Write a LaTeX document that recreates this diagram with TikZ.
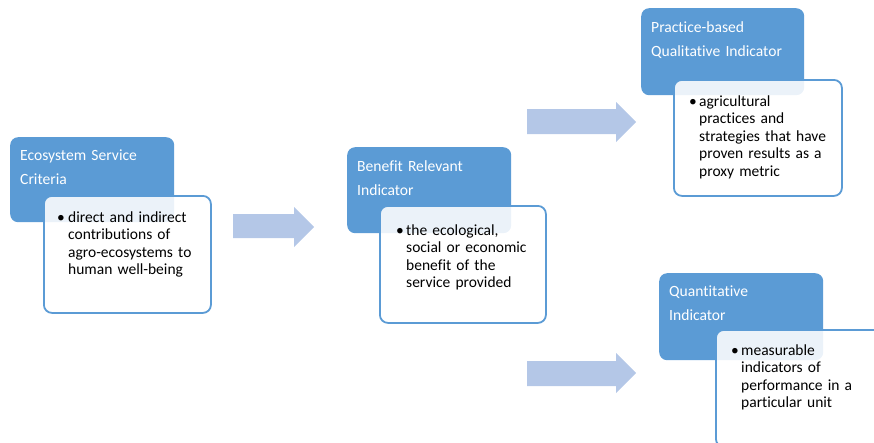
\documentclass[tikz,border=0pt]{standalone}
\usepackage{fontspec}
\setmainfont{Carlito}[Ligatures={NoCommon,NoRequired,NoContextual,NoRare},RawFeature={-liga;-dlig;-clig;-calt}]
\definecolor{cardblue}{HTML}{5B9BD5}
\definecolor{arrowblue}{HTML}{B4C7E7}
\tikzset{
  titlecard/.style={fill=cardblue, draw=none, rounded corners=8pt, inner sep=0pt, anchor=north west},
  bodycard/.style={fill=white, fill opacity=0.88, draw=cardblue, draw opacity=1, line width=1.8pt, rounded corners=8pt, inner sep=0pt, anchor=north west},
  titletext/.style={text=white, font=\fontsize{15.6}{24.5}\selectfont, anchor=base west, align=left, inner sep=0pt, text width=170pt},
  bodytext/.style={text=black, font=\fontsize{15.5}{17.6}\selectfont, anchor=base west, align=left, inner sep=0pt, text width=160pt},
  bullettext/.style={text=black, font=\fontsize{15.5}{17.6}\selectfont, anchor=base west, inner sep=0pt},
  blockarrow/.style={fill=arrowblue, draw=none}
}
\begin{document}
\begin{tikzpicture}[x=1pt, y=-1pt]
\useasboundingbox (0,0) rectangle (874,442);
\clip (0,0) rectangle (874,442);

% block arrows
\fill[blockarrow] (233,214) -- (294,214) -- (294,207) -- (314,227) -- (294,247) -- (294,238) -- (233,238) -- cycle;
\fill[blockarrow] (527,109) -- (616,109) -- (616,102) -- (636,122) -- (616,142) -- (616,134) -- (527,134) -- cycle;
\fill[blockarrow] (527,361) -- (616,361) -- (616,353) -- (636,373) -- (616,393) -- (616,386) -- (527,386) -- cycle;

% card 1
\node[titlecard, minimum width=164pt, minimum height=85pt] (t1) at (10,137) {};
\node[titletext] (tt1) at (20,160) {Ecosystem Service\\Criteria};
\node[bodycard, minimum width=167pt, minimum height=117pt] (b1) at (43,195) {};
\node[bullettext] (u1) at (57,222) {•};
\node[bodytext] (bt1) at (68,222) {direct and indirect\\contributions of\\agro-ecosystems to\\human well-being};

% card 2
\node[titlecard, minimum width=164pt, minimum height=86pt] (t2) at (347,147) {};
\node[titletext] (tt2) at (357,171) {Benefit Relevant\\Indicator};
\node[bodycard, minimum width=166pt, minimum height=117pt] (b2) at (379,205) {};
\node[bullettext] (u2) at (396,235) {•};
\node[bodytext] (bt2) at (406,235) {the ecological,\\social or economic\\benefit of the\\service provided};

% card 3
\node[titlecard, minimum width=163pt, minimum height=87pt] (t3) at (641,8) {};
\node[titletext] (tt3) at (651,32) {Practice-based\\Qualitative Indicator};
\node[bodycard, minimum width=168pt, minimum height=116pt] (b3) at (673,79) {};
\node[bullettext] (u3) at (689,106) {•};
\node[bodytext] (bt3) at (699,106) {agricultural\\practices and\\strategies that have\\proven results as a\\proxy metric};

% card 4
\node[titlecard, minimum width=164pt, minimum height=87pt] (t4) at (659,273) {};
\node[titletext] (tt4) at (669,296) {Quantitative\\Indicator};
\node[bodycard, minimum width=167pt, minimum height=117pt] (b4) at (715,329) {};
\node[bullettext] (u4) at (731,355) {•};
\node[bodytext] (bt4) at (741,355) {measurable\\indicators of\\performance in a\\particular unit};
\end{tikzpicture}
\end{document}
